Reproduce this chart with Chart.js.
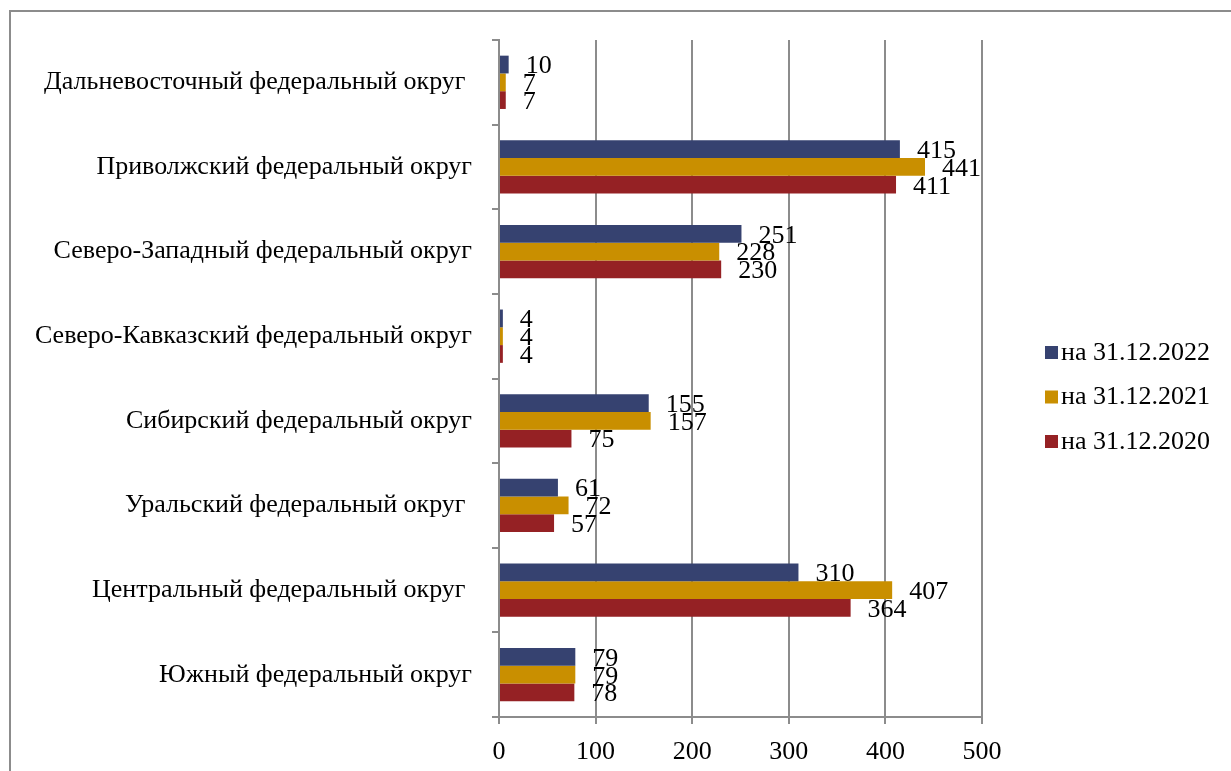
<!DOCTYPE html>
<html>
<head>
<meta charset="utf-8">
<script src="https://cdn.jsdelivr.net/npm/chart.js@4.4.0/dist/chart.umd.min.js"></script>
<style>
  html, body { margin: 0; padding: 0; background: #fff; }
  #wrap { width: 1231px; height: 771px; position: relative; }
</style>
</head>
<body>
<div id="wrap"><canvas id="barChart" width="1231" height="771"></canvas></div>
<script>
// округа сверху вниз
const districts = [
  'Дальневосточный федеральный округ ',
  'Приволжский федеральный округ',
  'Северо-Западный федеральный округ',
  'Северо-Кавказский федеральный округ',
  'Сибирский федеральный округ',
  'Уральский федеральный округ ',
  'Центральный федеральный округ ',
  'Южный федеральный округ'
];
const seriesNames = ['на 31.12.2022', 'на 31.12.2021', 'на 31.12.2020'];
const values2022 = [10, 415, 251, 4, 155, 61, 310, 79];
const values2021 = [7, 441, 228, 4, 157, 72, 407, 79];
const values2020 = [7, 411, 230, 4, 75, 57, 364, 78];
const xTicks = [0, 100, 200, 300, 400, 500];

const colors = ['#364270', '#C98F00', '#952124'];
const serif = '"Liberation Serif", "Times New Roman", serif';
const gridColor = '#8c8c8c';

// подписи значений справа от столбцов
const valueLabels = {
  id: 'valueLabels',
  afterDatasetsDraw(chart) {
    const ctx = chart.ctx;
    ctx.save();
    ctx.font = '26px ' + serif;
    ctx.fillStyle = '#000';
    ctx.textAlign = 'left';
    ctx.textBaseline = 'middle';
    chart.data.datasets.forEach((ds, i) => {
      chart.getDatasetMeta(i).data.forEach((bar, j) => {
        ctx.fillText(String(ds.data[j]), bar.x + 17, bar.y + 2);
      });
    });
    ctx.restore();
  }
};

// рамка и легенда справа
const frameAndLegend = {
  id: 'frameAndLegend',
  afterDraw(chart) {
    const ctx = chart.ctx;
    ctx.save();
    ctx.strokeStyle = '#8c8c8c';
    ctx.lineWidth = 2;
    ctx.beginPath();
    ctx.moveTo(10, 771);
    ctx.lineTo(10, 11);
    ctx.lineTo(1231, 11);
    ctx.stroke();

    ctx.font = '26px ' + serif;
    ctx.textBaseline = 'middle';
    ctx.textAlign = 'left';
    chart.data.datasets.forEach((ds, i) => {
      const y = 352 + i * 44.5;
      ctx.fillStyle = ds.backgroundColor;
      ctx.fillRect(1045, y - 6, 13, 13);
      ctx.fillStyle = '#000';
      ctx.fillText(ds.label, 1061, y + 1);
    });
    ctx.restore();
  }
};

new Chart(document.getElementById('barChart'), {
  type: 'bar',
  data: {
    labels: districts,
    datasets: [
      { label: seriesNames[0], data: values2022, backgroundColor: colors[0] },
      { label: seriesNames[1], data: values2021, backgroundColor: colors[1] },
      { label: seriesNames[2], data: values2020, backgroundColor: colors[2] }
    ]
  },
  options: {
    indexAxis: 'y',
    responsive: false,
    animation: false,
    layout: { padding: { top: 40, right: 249, left: 0, bottom: 0 } },
    datasets: { bar: { categoryPercentage: 0.63, barPercentage: 1.0 } },
    plugins: {
      legend: { display: false },
      tooltip: { enabled: false }
    },
    scales: {
      x: {
        min: 0,
        max: 500,
        afterBuildTicks(axis) { axis.ticks = xTicks.map(v => ({ value: v })); },
        afterFit(axis) { axis.height = 54; },
        grid: { color: gridColor, lineWidth: 2, tickLength: 7 },
        border: { color: gridColor, width: 2 },
        ticks: { color: '#000', font: { family: serif, size: 26 }, padding: 13 }
      },
      y: {
        afterFit(axis) { axis.width = 499; },
        grid: { offset: true, drawOnChartArea: false, color: gridColor, lineWidth: 2, tickLength: 7 },
        border: { color: gridColor, width: 2 },
        ticks: { color: '#000', font: { family: serif, size: 26 }, padding: 20 }
      }
    }
  },
  plugins: [valueLabels, frameAndLegend]
});
</script>
</body>
</html>
